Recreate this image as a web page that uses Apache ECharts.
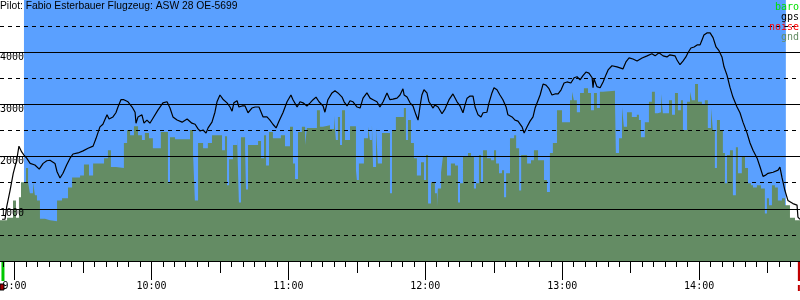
<!DOCTYPE html>
<html>
<head>
<meta charset="utf-8">
<script src="https://cdn.jsdelivr.net/npm/echarts@6/dist/echarts.min.js"></script>
<style>
  html, body { margin: 0; padding: 0; background: #fff; }
  #chart { width: 800px; height: 300px; }
</style>
</head>
<body>
<div id="chart"></div>
<script>
// times are minutes after 09:00
const title = 'Pilot: Fabio Esterbauer Flugzeug: ASW 28 OE-5699';
const legendNames = ['baro', 'gps', 'noise', 'gnd'];
const hourTicks = [0, 60, 120, 180, 240, 300];
const viewStart = -6.4, viewEnd = 344.2;
const recordStart = -5.1, recordEnd = 343.7;
const takeoff = 4.1, landing = 338.0;

const gpsMin = [-5.5, -4.2, -3.5, -2.0, -0.6, 0.9, 1.9, 3.1, 4.1, 5.3, 6.8, 8.9, 10.8, 12.5, 14.1, 15.5, 17.7, 18.6, 19.9, 21.2,
  22.8, 24.3, 25.6, 27.8, 30.0, 32.2, 34.4, 35.7, 37.4, 38.7, 40.5, 41.4, 43.1, 44.4, 45.3, 46.6, 47.9, 49.7, 51.5, 52.8,
  53.2, 54.1, 55.8, 56.7, 58.0, 59.3, 60.7, 62.8, 65.0, 66.8, 68.1, 69.4, 71.2, 73.4, 75.6, 77.7, 79.1, 80.4, 81.3,
  82.6, 83.9, 84.8, 86.5, 87.8, 88.7, 90.0, 91.3, 93.1, 94.4, 95.3, 96.1, 97.5, 98.3, 99.7, 101.0, 102.3, 104.0, 105.4,
  107.1, 108.9, 110.6, 111.9, 113.2, 114.6, 115.9, 117.6, 119.4, 121.1, 122.0, 123.8, 125.1, 126.4, 128.1, 129.5, 130.8,
  132.1, 133.4, 135.2, 136.0, 137.3, 139.1, 140.4, 141.7, 143.5, 144.4, 145.7, 147.0, 148.3, 150.1, 151.4, 152.7, 154.4,
  155.8, 157.1, 158.8, 160.1, 161.5, 163.2, 164.5, 165.8, 167.6, 168.9,
  170.2, 170.7, 172.0, 173.3, 174.6, 175.9, 176.8, 177.7, 178.5, 179.4, 180.7, 181.6, 183.4, 184.2, 185.6, 187.3, 188.6,
  190.4, 192.1, 193.9, 195.2, 196.5, 197.4, 198.3, 199.6, 200.9, 201.8, 203.1, 204.4, 205.3, 207.0, 207.9, 209.2, 210.1,
  211.4, 212.7, 214.0, 215.4, 216.2, 218.0, 219.3, 220.6, 222.4, 223.3, 224.6, 225.9, 227.2, 228.1, 229.0, 230.3, 231.6,
  232.9, 234.2, 235.5, 236.8, 238.2, 239.5, 240.8, 242.1, 243.8, 245.2, 246.5, 247.8, 249.1, 250.4, 251.7, 253.1, 253.5,
  253.9, 255.2, 256.6,
  257.9, 259.2, 260.1, 261.8, 264.0, 265.3, 266.6, 268.0, 269.3, 271.0, 272.8, 275.0, 277.2, 279.3, 280.7, 282.4, 284.2,
  285.9, 287.2, 289.4, 290.3, 291.6, 292.9, 294.2, 295.1, 296.4, 297.8, 299.1, 300.4, 301.3, 302.1, 303.4, 304.8, 306.1,
  307.4, 308.7, 310.0, 310.9, 312.2, 313.5, 314.8, 316.6, 317.9, 319.2, 321.0, 322.3, 323.6, 325.4, 326.7, 328.0, 328.9,
  330.2, 332.4, 334.6, 335.4, 336.3, 337.6, 338.9, 341.1, 342.9, 343.3, 344.2];
const gpsAlt = [800, 800, 1030, 1350, 1680, 1930, 2200, 2090, 2030, 1970, 1870, 1840, 1760, 1870, 1920, 1930, 1870, 1710, 1590, 1680,
  1840, 1970, 2050, 2070, 2110, 2160, 2200, 2350, 2570, 2620, 2800, 2720, 2760, 2840, 2950, 3090, 3090, 3050, 2950, 2850,
  2640, 2760, 2800, 2640, 2700, 2640, 2740, 2890, 3030, 3050, 2930, 2760, 2700, 2660, 2720, 2640, 2620, 2530, 2490,
  2510, 2450, 2550, 2660, 2850, 3050, 3180, 3100, 3030, 2950, 2870, 3030, 3070, 2950, 2970, 2970, 2840, 2930, 2950,
  2950, 2760, 2760, 2700, 2620, 2550, 2680, 2840, 3050, 3180, 3090, 2950, 3050, 3030, 2970, 3030, 3090,
  3140, 3050, 2970, 2850, 3090, 3220, 3260, 3220, 3140, 3050, 2970, 3070, 3050, 2950, 2930, 3120, 3220,
  3120, 3090, 3050, 2950, 3050, 3220, 3090, 3100, 3120, 3180,
  3300, 3180, 3140, 3030, 2970, 2800, 2700, 2970, 3180, 3280, 3220, 3050, 2930, 2990, 2950, 2820, 2910,
  3090, 3200, 3050, 2970, 2840, 2990, 3120, 3160, 3160, 2950, 2800, 2760, 2840, 2850, 3030, 3220, 3320,
  3280, 3180, 3090, 2950, 2800, 2760, 2700, 2680, 2570, 2450, 2570, 2680, 2760, 2930, 3030, 3180, 3390,
  3370, 3300, 3180, 3200, 3200, 3280, 3410, 3430, 3410, 3510, 3530, 3470, 3550, 3620, 3600, 3510, 3320,
  3490, 3340, 3320,
  3430, 3570, 3660, 3740, 3720, 3700, 3680, 3820, 3890, 3870, 3830, 3890, 3930, 3970, 3930, 3990, 3930,
  3910, 3950, 3930, 3850, 3760, 3830, 3910, 3990, 4080, 4100, 4140, 4140, 4240, 4330, 4370, 4370, 4280,
  4100, 4030, 3910, 3720, 3560, 3330, 3140, 2950, 2840, 2660, 2450, 2260, 2120, 1970, 1800, 1620, 1640,
  1680, 1700, 1740, 1800, 1600, 1350, 1160, 1100, 1070, 840, 800];

const gndMin = [-6.4, -3.3, -0.7, 0.6, 1.9, 2.8, 5.0, 5.9, 6.7, 8.1, 8.9, 9.8, 11.1, 13.3, 15.5, 18.6, 20.8, 23.4, 25.2, 28.7,
  30.4, 32.6, 34.4, 39.2, 40.9, 42.2, 44.4, 47.9, 49.3, 50.6, 52.3, 54.1, 55.8, 57.1, 58.9, 60.6, 64.1, 67.2, 68.1, 70.3,
  76.9, 78.2, 79.0, 80.4, 82.6, 84.7, 86.5, 90.9, 92.2, 93.1, 94.0, 95.7, 97.5, 98.3, 99.2, 101.0, 101.4, 102.3, 106.7,
  108.0, 109.3, 110.2, 111.5, 113.2, 116.7, 118.5, 120.7, 122.0, 122.9, 124.2, 125.9, 127.3, 128.1, 132.5, 133.8, 135.1,
  138.2, 140.0, 140.8, 141.7, 142.6, 143.5, 144.8, 147.0, 149.6, 150.0, 150.9, 153.1, 154.9, 155.7, 156.6, 157.1, 158.4,
  159.2, 161.0, 164.5, 165.4, 167.1, 170.6, 171.5, 172.4, 173.7, 175.0, 176.3, 178.1, 179.4, 180.3, 181.2, 182.5, 184.2,
  185.1, 185.5, 186.9, 187.7, 189.5, 191.2, 193.0, 194.3, 195.2, 196.5, 198.7, 200.0, 201.3, 202.2, 203.5, 204.4, 205.3,
  207.0, 208.8, 210.1, 211.0, 212.3, 213.6, 214.5, 215.4, 217.1, 218.9, 219.8, 221.1, 222.0, 224.6, 226.3, 227.6, 229.4,
  232.0, 233.3, 234.6, 235.9, 237.7, 239.9, 242.0, 243.4, 244.3, 245.1, 246.4, 247.8, 249.5, 251.3, 252.6, 253.9, 255.2,
  256.5, 257.9, 263.1, 263.5, 264.9, 266.2, 267.0, 268.4, 270.5, 272.7, 273.6, 274.5, 276.2, 278.0, 279.3, 280.6, 281.9,
  283.3, 284.1, 285.9, 286.8, 288.1, 289.4, 290.7, 292.0, 292.9, 294.7, 296.0, 296.8, 298.2, 299.5, 301.2, 302.5, 303.8,
  305.2, 306.0, 306.9, 307.8, 309.1, 310.4, 311.3, 312.2, 313.5, 314.8, 316.1, 317.0, 318.7, 320.1, 321.4, 322.7, 323.6,
  325.3, 327.1, 328.8, 329.7, 330.6, 331.9, 333.2, 334.5, 336.3, 337.6, 339.8, 342.0, 344.2];
const gndAlt = [780, 830, 1160, 830, 1220, 1510, 1780, 1510, 1300, 1510, 1260, 1160, 810, 780, 760, 1160, 1200, 1410, 1600, 1640,
  1850, 1640, 1870, 1970, 2120, 1800, 1780, 2260, 2510, 2410, 2580, 2410, 2320, 2450, 2350, 2160, 2470, 1490, 2370, 2330,
  2510, 2070, 1160, 2260, 2160, 2260, 2410, 2120, 2390, 1450, 1950, 2220, 2350, 1120, 2370, 2180, 1370, 2220, 2300,
  1970, 2410, 1830, 2470, 2350, 2410, 2200, 2570, 1870, 1570, 2470, 2570, 2220, 2550, 2890, 2570, 2600,
  2530, 2780, 2320, 2760, 2220, 2890, 2320, 2580, 1740, 1550, 1870, 2350, 2570, 2320, 2620, 1800, 2550,
  1870, 2450, 1300, 2510, 2760, 2930, 2320, 2700, 2260, 1970, 1640, 1890, 1550, 2030, 1100, 1510, 1300,
  1030, 1390, 1700, 1990, 1640, 1870, 1830, 1120, 1490, 1990, 2070, 1990, 1390, 1490, 2030, 1510, 2120,
  1970, 1930, 2120, 1870, 1680, 1740, 1220, 1680, 2350, 2410, 2160, 1350, 2030, 1870, 1930, 2120, 1930,
  1550, 1320, 2070, 2260, 2890, 2660, 2660, 3080, 3240, 3080, 2850, 3220, 3310, 3220, 2890, 3220, 2930,
  3240, 3260, 3080, 2070, 2350, 2950, 2570, 2850, 2760, 2800, 2700, 2370, 2660, 3050, 3240, 2830, 2850,
  3200, 2830, 2830, 3080, 2800, 3220, 2890, 3080, 2510, 3050, 3240, 3080, 3390, 3050, 2990, 3080, 2550,
  2930, 2510, 1780, 2700, 2510, 2070, 1490, 2030, 2120, 1260, 2180, 1680, 1990, 1780, 1490, 1450, 1410,
  1450, 1390, 910, 1200, 1070, 1450, 1410, 1160, 1200, 1070, 830, 780, 780];

const monoFont = 'DejaVu Sans Mono';
const pairs = (xs, ys) => xs.map((x, i) => [x, ys[i]]);
const clock = v => (9 + Math.round(v / 60)) + ':00';

const minorTicks = [];
for (let m = -5; m <= viewEnd; m += 5) minorTicks.push(m);
const halfTicks = [];
for (let m = 30; m <= viewEnd; m += 60) halfTicks.push(m);

const chart = echarts.init(document.getElementById('chart'));

const baseX = {
  type: 'value', min: viewStart, max: viewEnd, position: 'bottom',
  splitLine: {show: false},
  axisLabel: {show: false},
  axisLine: {show: false},
};

chart.setOption({
  animation: false,
  title: {
    text: title, left: 0, top: 1, padding: 0, z: 10,
    textStyle: {fontSize: 10.3, fontWeight: 'normal', fontFamily: 'Liberation Sans', color: '#000'}
  },
  legend: {
    orient: 'vertical', right: -9, top: -3, itemGap: 0, itemWidth: 0, itemHeight: 10,
    icon: 'none', align: 'right', selectedMode: false,
    textStyle: {fontSize: 10, fontFamily: monoFont, lineHeight: 10},
    data: [
      {name: 'baro', textStyle: {color: '#00e000'}},
      {name: 'gps', textStyle: {color: '#000'}},
      {name: 'noise', textStyle: {color: '#ff0000'}},
      {name: 'gnd', textStyle: {color: '#648c64'}}
    ]
  },
  grid: {left: 0, right: 0, top: 0, bottom: 39, containLabel: false, outerBoundsMode: 'none'},
  xAxis: [
    Object.assign({}, baseX, {
      axisLine: {show: true, lineStyle: {color: '#000'}},
      axisTick: {show: true, length: 6, customValues: minorTicks, lineStyle: {color: '#000'}}
    }),
    Object.assign({}, baseX, {
      axisTick: {show: true, length: 12, customValues: halfTicks, lineStyle: {color: '#000'}}
    }),
    Object.assign({}, baseX, {
      axisTick: {show: true, length: 19, customValues: hourTicks, lineStyle: {color: '#000'}},
      axisLabel: {
        show: true, customValues: hourTicks, formatter: clock, margin: 20, verticalAlign: 'top',
        color: '#000', fontSize: 10, fontFamily: monoFont
      }
    })
  ],
  yAxis: [
    {
      type: 'value', min: 0, max: 5000, interval: 1000, z: 5,
      axisLine: {show: false}, axisTick: {show: false},
      splitLine: {show: true, showMaxLine: false, lineStyle: {color: '#000', width: 1}},
      axisLabel: {
        inside: true, margin: 0, verticalAlign: 'top', color: '#000', fontSize: 10, fontFamily: monoFont,
        formatter: v => (v === 0 || v === 5000) ? '' : String(v)
      }
    },
    {
      type: 'value', min: 0, max: 5000, interval: 500, z: 4,
      axisLine: {show: false}, axisTick: {show: false}, axisLabel: {show: false},
      splitLine: {show: true, showMaxLine: false, showMinLine: false, lineStyle: {color: '#000', width: 1, type: [4, 4]}}
    }
  ],
  series: [
    {
      name: 'sky', type: 'line', data: [], z: 1, silent: true,
      markArea: {
        silent: true,
        itemStyle: {color: '#5aa0ff', opacity: 1},
        data: [[{xAxis: takeoff}, {xAxis: landing}]]
      }
    },
    {
      name: 'gnd', type: 'line', step: 'end', symbol: 'none', z: 2, silent: true,
      color: '#648c64',
      lineStyle: {width: 0},
      areaStyle: {color: '#648c64', opacity: 1},
      data: pairs(gndMin, gndAlt)
    },
    {name: 'baro', type: 'line', symbol: 'none', color: '#00e000', data: []},
    {name: 'noise', type: 'line', symbol: 'none', color: '#ff0000', data: []},
    {
      name: 'gps', type: 'line', symbol: 'none', z: 6, silent: true,
      color: '#000', lineStyle: {color: '#000', width: 1.2},
      data: pairs(gpsMin, gpsAlt)
    }
  ]
});

// start / end of recording markers under the time axis
const axisY = chart.convertToPixel({yAxisIndex: 0}, 0);
const xs = chart.convertToPixel({xAxisIndex: 0}, recordStart);
const xe = chart.convertToPixel({xAxisIndex: 0}, recordEnd);
chart.setOption({
  graphic: [
    {type: 'rect', shape: {x: xs - 1.5, y: axisY + 1, width: 3, height: 19}, style: {fill: '#00c800'}},
    {type: 'rect', shape: {x: xs - 3, y: axisY + 23, width: 4, height: 6}, style: {fill: '#a00000', stroke: '#000'}},
    {type: 'rect', shape: {x: xe - 1, y: axisY + 1, width: 3, height: 19}, style: {fill: '#c00000'}},
    {type: 'rect', shape: {x: xe - 1, y: axisY + 24, width: 2, height: 6}, style: {fill: '#c00000'}}
  ]
});
</script>
</body>
</html>
